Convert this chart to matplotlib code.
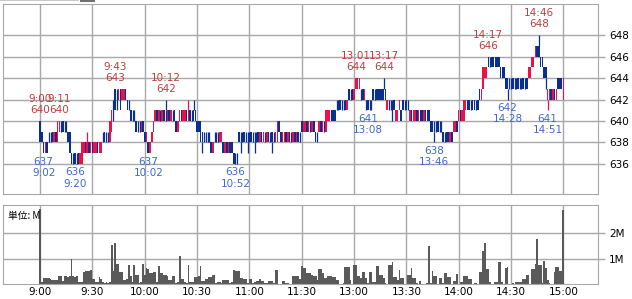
import matplotlib.pyplot as plt
import matplotlib.patches as mpatches
import numpy as np

# 1-minute bars, index 0 = 9:00 ... 150 = 11:30 / 12:30 ... 300 = 15:00
lo = [638,638,637,637,637,638,638,638,638,638,
      638,639,639,639,639,639,638,637,636,636,
      636,636,636,636,636,637,637,637,637,637,
      637,637,637,637,637,637,638,638,638,638,
      638,639,640,641,641,642,641,642,642,642,
      641,641,640,640,640,639,639,639,639,639,
      638,638,637,637,638,639,640,640,640,640,
      640,640,640,640,640,640,640,640,639,639,
      640,640,640,640,640,640,640,640,640,640,
      639,639,638,638,638,638,638,638,637,637,
      638,638,638,638,638,637,637,637,637,637,
      637,636,636,636,638,638,638,638,638,638,
      638,638,638,638,638,638,638,638,638,638,
      638,638,638,638,638,638,638,639,638,638,
      638,638,638,638,638,638,638,638,638,638,
      639,639,639,639,639,639,639,639,638,638,
      639,639,639,639,639,640,640,640,640,640,
      641,641,641,641,641,641,641,642,642,642,
      642,643,643,643,642,642,642,641,641,641,
      641,642,642,642,642,642,642,642,642,641,
      641,641,640,641,640,640,641,640,641,641,
      641,641,640,640,640,640,640,640,640,640,
      640,640,640,640,639,639,639,639,639,639,
      639,638,638,638,638,638,638,639,639,639,
      640,640,640,640,641,641,641,641,641,641,
      641,641,642,642,643,644,644,645,645,645,
      645,645,645,645,644,644,644,643,643,643,
      643,643,643,643,643,643,643,643,643,643,
      644,644,645,645,646,646,646,645,645,644,
      644,642,642,642,642,642,642,643,643,643,
      642]
hi = [640,639,638,638,638,639,639,639,639,639,
      640,640,640,640,640,640,639,639,637,637,
      637,637,637,637,638,638,638,638,638,638,
      638,638,638,638,638,638,639,639,639,639,
      640,641,642,643,643,643,643,643,643,643,
      642,642,641,641,641,640,640,640,640,640,
      639,639,638,638,639,640,641,641,641,641,
      641,641,641,641,641,641,641,641,640,640,
      641,641,641,641,641,641,641,641,641,641,
      640,640,640,639,639,639,639,639,638,638,
      639,639,639,639,639,638,638,638,638,638,
      638,637,637,637,639,639,639,639,639,639,
      639,639,639,639,639,639,639,639,639,639,
      639,639,639,639,639,639,640,640,639,639,
      639,639,639,639,639,639,639,639,639,639,
      640,640,640,640,640,640,640,640,639,639,
      640,640,640,640,641,641,641,641,641,641,
      642,642,642,642,642,642,642,643,643,643,
      643,644,644,644,643,643,643,642,642,642,
      642,643,643,643,643,643,643,643,643,642,
      642,642,642,642,641,641,642,641,642,642,
      642,642,641,641,641,641,641,641,641,641,
      641,641,641,641,640,640,640,640,640,640,
      640,639,639,639,639,639,639,640,640,640,
      641,641,641,642,642,642,642,642,642,642,
      642,642,643,643,645,645,645,646,646,646,
      646,646,646,646,645,645,645,644,644,644,
      644,644,644,644,644,644,644,644,644,644,
      645,645,646,646,647,647,647,646,646,645,
      645,643,643,643,643,643,643,644,644,644,
      644]
# u = up (red), d = down (blue), n = flat (thin blue)
kind = ("dddudnndud" "uundnndddn" "dnduuududu" "duuduundnn" "uundnuduud"
        "dndnndnnud" "duduuuudun" "udnudunddu" "uduududndd" "ddddnnnndu"
        "nnnuududud" "ddnndnndnn" "ndnnndudun" "udndnuuddu" "ududnududn"
        "duudunuddn" "udunuuuddd" "nndnndudnd" "uuuundundn" "ndnddddddu"
        "nnnduuuddn" "dnuduududd" "udddddnndn" "ndndduduud" "uduuuddndd"
        "ndduuuudnd" "dddddddddn" "ndnndnndnd" "uuuuuddddd" "duudududdd"
        "u")
wick_hi = {27: 639, 72: 642, 85: 642, 88: 642, 197: 644, 286: 648}
wick_lo = {93: 637, 115: 637, 119: 637, 123: 637, 133: 637,
           226: 638, 268: 642, 290: 643, 291: 641}

volume = [2.93,0.1,0.24,0.24,0.24,0.22,0.2,0.15,0.15,0.15,
          0.15,0.3,0.3,0.13,0.3,0.3,0.26,0.3,1.0,0.3,
          0.28,0.3,0.08,0.08,0.08,0.47,0.5,0.53,0.53,0.55,
          0.2,0.2,0.08,0.08,0.26,0.2,0.08,0.05,0.08,0.05,
          0.1,1.55,0.5,1.6,0.8,0.8,0.46,0.46,0.17,0.17,
          0.2,0.76,0.3,0.1,0.76,0.37,0.37,0.05,0.1,0.8,
          0.37,0.63,0.6,0.43,0.43,0.47,0.47,0.1,0.72,0.42,
          0.42,0.37,0.37,0.3,0.17,0.17,0.3,0.3,0.05,0.1,
          1.12,0.2,0.2,0.1,0.05,0.76,0.08,0.08,0.08,0.26,
          0.26,0.3,0.72,0.13,0.13,0.21,0.21,0.26,0.26,0.34,
          0.34,0.03,0.1,0.1,0.03,0.17,0.17,0.17,0.17,0.03,
          0.1,0.56,0.53,0.53,0.5,0.24,0.24,0.21,0.21,0.05,
          0.21,0.21,0.03,0.08,0.13,0.13,0.21,0.13,0.13,0.03,
          0.03,0.13,0.13,0.13,0.05,0.56,0.56,0,0,0.13,
          0.13,0.03,0.05,0,0,0.3,0.3,0.33,0.33,0.2,
          0.7,0.63,0.63,0.43,0.43,0.43,0.34,0.33,0.33,0.17,
          0.6,0.6,0.43,0.24,0.24,0.3,0.3,0.3,0.26,0.26,
          0.17,0.17,0,0,0.05,0.66,0.66,0.66,0.17,0,
          0.74,0.74,0.3,0.3,0.24,0.47,0.47,0.24,0.05,0.47,
          0.47,0.1,0.1,0.7,0.7,0.34,0.34,0.24,0.05,0,
          0.74,0.74,0.87,0.26,0.26,0.17,0.56,0.24,0.24,0,
          0,0.34,0.34,0.63,0.24,0.24,0.05,0,0.13,0,
          0,0,0.05,1.5,0.05,0.53,0.33,0.33,0,0.24,
          0.24,0.05,0.43,0.43,0.26,0.26,0,0.13,0.13,0.4,
          0,0.1,0.1,0.33,0.33,0.33,0.21,0.21,0,0.04,
          0.04,0,0.47,0.47,1.3,1.6,0.6,0.6,0.1,0,
          0,0.1,0.1,0.87,0.87,0.08,0,0.63,0.66,0,
          0,0.04,0,0.08,0.08,0.1,0.1,0.21,0.21,0.37,
          0.37,0,0.6,0.6,0.8,1.75,0.76,0.76,0.05,0.92,
          0.63,0.17,0.05,0,0,0.47,0.66,0.66,0.5,0.5,
          2.9]

tick_pos = [0, 30, 60, 90, 120, 150, 180, 210, 240, 270, 300]
tick_lab = ['9:00', '9:30', '10:00', '10:30', '11:00', '11:30',
            '13:00', '13:30', '14:00', '14:30', '15:00']

highs = [(0, '9:00', 640), (11, '9:11', 640), (43, '9:43', 643), (72, '10:12', 642),
         (181, '13:01', 644), (197, '13:17', 644), (257, '14:17', 646), (286, '14:46', 648)]
lows = [(2, '9:02', 637), (20, '9:20', 636), (62, '10:02', 637), (112, '10:52', 636),
        (188, '13:08', 641), (226, '13:46', 638), (268, '14:28', 642), (291, '14:51', 641)]

assert len(lo) == len(hi) == len(kind) == len(volume) == 301

RED = '#ee1148'
BLUE = '#0b2f8f'
GRID = '#a8a8a8'
x = np.arange(len(lo))
lo = np.array(lo)
hi = np.array(hi)

fig = plt.figure(figsize=(6.32, 2.99), dpi=100)
ax = fig.add_axes([0.005, 0.351, 0.941, 0.636])
av = fig.add_axes([0.005, 0.050, 0.941, 0.264])

for a in (ax, av):
    a.set_axisbelow(True)
    a.grid(color=GRID, lw=1)
    for s in a.spines.values():
        s.set_color(GRID)
    a.set_xlim(-21.2, 319.8)
    a.set_xticks(tick_pos)
    a.yaxis.tick_right()
    a.tick_params(axis='y', length=5, width=1, color=GRID, labelsize=7.5, pad=3)

ax.tick_params(axis='x', length=0, labelbottom=False)
av.tick_params(axis='x', length=0, labelsize=7.5, pad=2)
av.set_xticklabels(tick_lab)

# candles
k = np.array(list(kind))
up = k == 'u'
dn = k == 'd'
fl = k == 'n'
ax.bar(x[up], (hi - lo)[up], bottom=lo[up], width=0.9, color=RED, linewidth=0)
ax.bar(x[dn], (hi - lo)[dn], bottom=lo[dn], width=0.9, color=BLUE, linewidth=0)
ax.vlines(x[fl], lo[fl], hi[fl], color=BLUE, lw=0.9)
for i, v in wick_hi.items():
    ax.vlines(i, hi[i], v, color=RED if kind[i] == 'u' else BLUE, lw=0.9)
for i, v in wick_lo.items():
    ax.vlines(i, v, lo[i], color=RED if kind[i] == 'u' else BLUE, lw=0.9)

ax.set_ylim(633.2, 650.9)
ax.set_yticks([636, 638, 640, 642, 644, 646, 648])

for i, t, p in highs:
    ax.annotate(f'{t}\n{p}', (i, p), xytext=(0, 4), textcoords='offset points',
                ha='center', va='bottom', fontsize=7.5, color='#c43c3c', linespacing=1.15)
for i, t, p in lows:
    ax.annotate(f'{p}\n{t}', (i, p), xytext=(0, -2.5), textcoords='offset points',
                ha='center', va='top', fontsize=7.5, color='#3f68d0', linespacing=1.15)

# volume
av.bar(x, volume, width=1.0, color='#5a5a5a', linewidth=0)
av.set_ylim(0, 3.1)
av.set_yticks([1, 2])
av.set_yticklabels(['1M', '2M'])
av.text(0.008, 0.93, '単位: M', transform=av.transAxes, ha='left', va='top',
        fontsize=7, family=['Noto Sans CJK JP', 'DejaVu Sans'])

# strip cut off at the top edge
fig.patches.append(mpatches.Rectangle((0, 0.995), 0.125, 0.005, transform=fig.transFigure,
                                      color='#c8c8c8', lw=0))
fig.patches.append(mpatches.Rectangle((0.127, 0.992), 0.024, 0.008, transform=fig.transFigure,
                                      color='#707070', lw=0))

fig.savefig('out.png', dpi=100)
